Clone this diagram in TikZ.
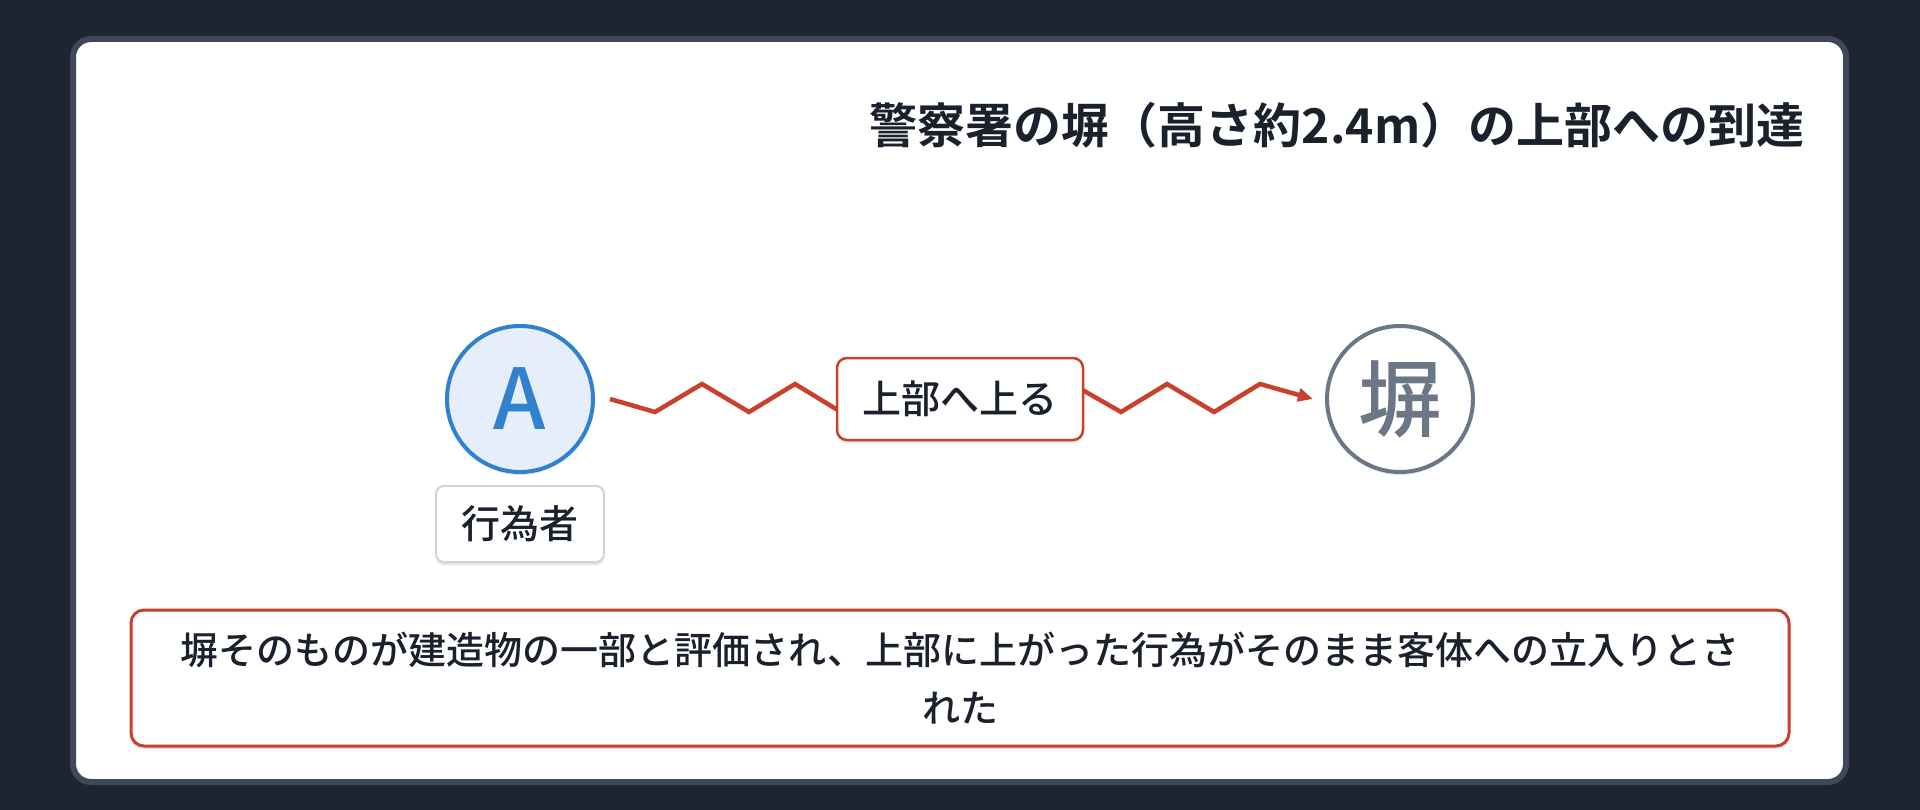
\documentclass[tikz,border=0pt]{standalone}
\usepackage{fontspec}
\setmainfont{Noto Sans CJK JP}[UprightFont={* Medium}, BoldFont={* Bold}]
\usetikzlibrary{arrows.meta,shadows}

\begin{document}
\begin{tikzpicture}[x=1pt,y=-1pt,
    softshadow/.style={drop shadow={shadow xshift=0pt,shadow yshift=-3pt,opacity=0.10,fill=black}},
    party/.style={circle, line width=4pt, minimum size=146pt, inner sep=0pt, outer sep=0pt, softshadow, font=\fontsize{84}{84}\selectfont},
    tagbox/.style={rectangle, rounded corners=8pt, fill=white, inner sep=0pt, outer sep=0pt, text=textdark, font=\fontsize{39}{39}\selectfont},
    zigline/.style={draw=zigred, line width=4.5pt, -{Triangle[length=15pt,width=13pt]}}]
    % Define colors
    \definecolor{pagebg}{HTML}{1F2530}
    \definecolor{cardedge}{HTML}{3E4858}
    \definecolor{textdark}{HTML}{1A202C}
    \definecolor{actorblue}{HTML}{3182CE}
    \definecolor{actorfill}{HTML}{E5EEFA}
    \definecolor{wallgray}{HTML}{6B7686}
    \definecolor{zigred}{HTML}{C8412C}
    \definecolor{tagedge}{HTML}{CBD5E0}

    % Draw the background and the card
    \fill[pagebg] (0,0) rectangle (1920,810);
    \draw[cardedge, fill=white, line width=6pt, rounded corners=18pt] (73,39) rectangle (1846,782);

    % Add the title
    \node[anchor=east, text=textdark, font=\fontsize{48}{48}\selectfont\bfseries] (title) at (1808,125) {警察署の塀（高さ約2.4m）の上部への到達};

    % Draw the two parties
    \node[party, draw=actorblue, fill=actorfill, text=actorblue] (actor) at (520,399) {A};
    \node[party, draw=wallgray, fill=white, text=wallgray] (wall) at (1400,399) {塀};
    \node[tagbox, draw=tagedge, line width=2pt, minimum width=168pt, minimum height=76pt, softshadow] (actortag) at (520,524) {行為者};

    % Draw the zigzag climb
    \draw[zigline] ([xshift=17pt]actor.east) -- ++(45,13) -- ++(47,-28) -- ++(47,28) -- ++(46,-28) -- ++(46,28)
        -- ++(231,-28) -- ++(49,28) -- ++(46,-28) -- ++(47,28) -- ++(46,-28) -- ([xshift=-14pt]wall.west);
    \node[tagbox, draw=zigred, line width=2.5pt, rounded corners=10pt, minimum width=246pt, minimum height=82pt, softshadow] (climb) at (960,399) {上部へ上る};

    % Add the finding
    \node[tagbox, draw=zigred, line width=3pt, rounded corners=13pt, minimum width=1658pt, minimum height=136pt, align=center, font=\fontsize{38}{58}\selectfont, softshadow] (finding) at (960,678)
        {塀そのものが建造物の一部と評価され、上部に上がった行為がそのまま客体への立入りとさ\\れた};
\end{tikzpicture}
\end{document}
